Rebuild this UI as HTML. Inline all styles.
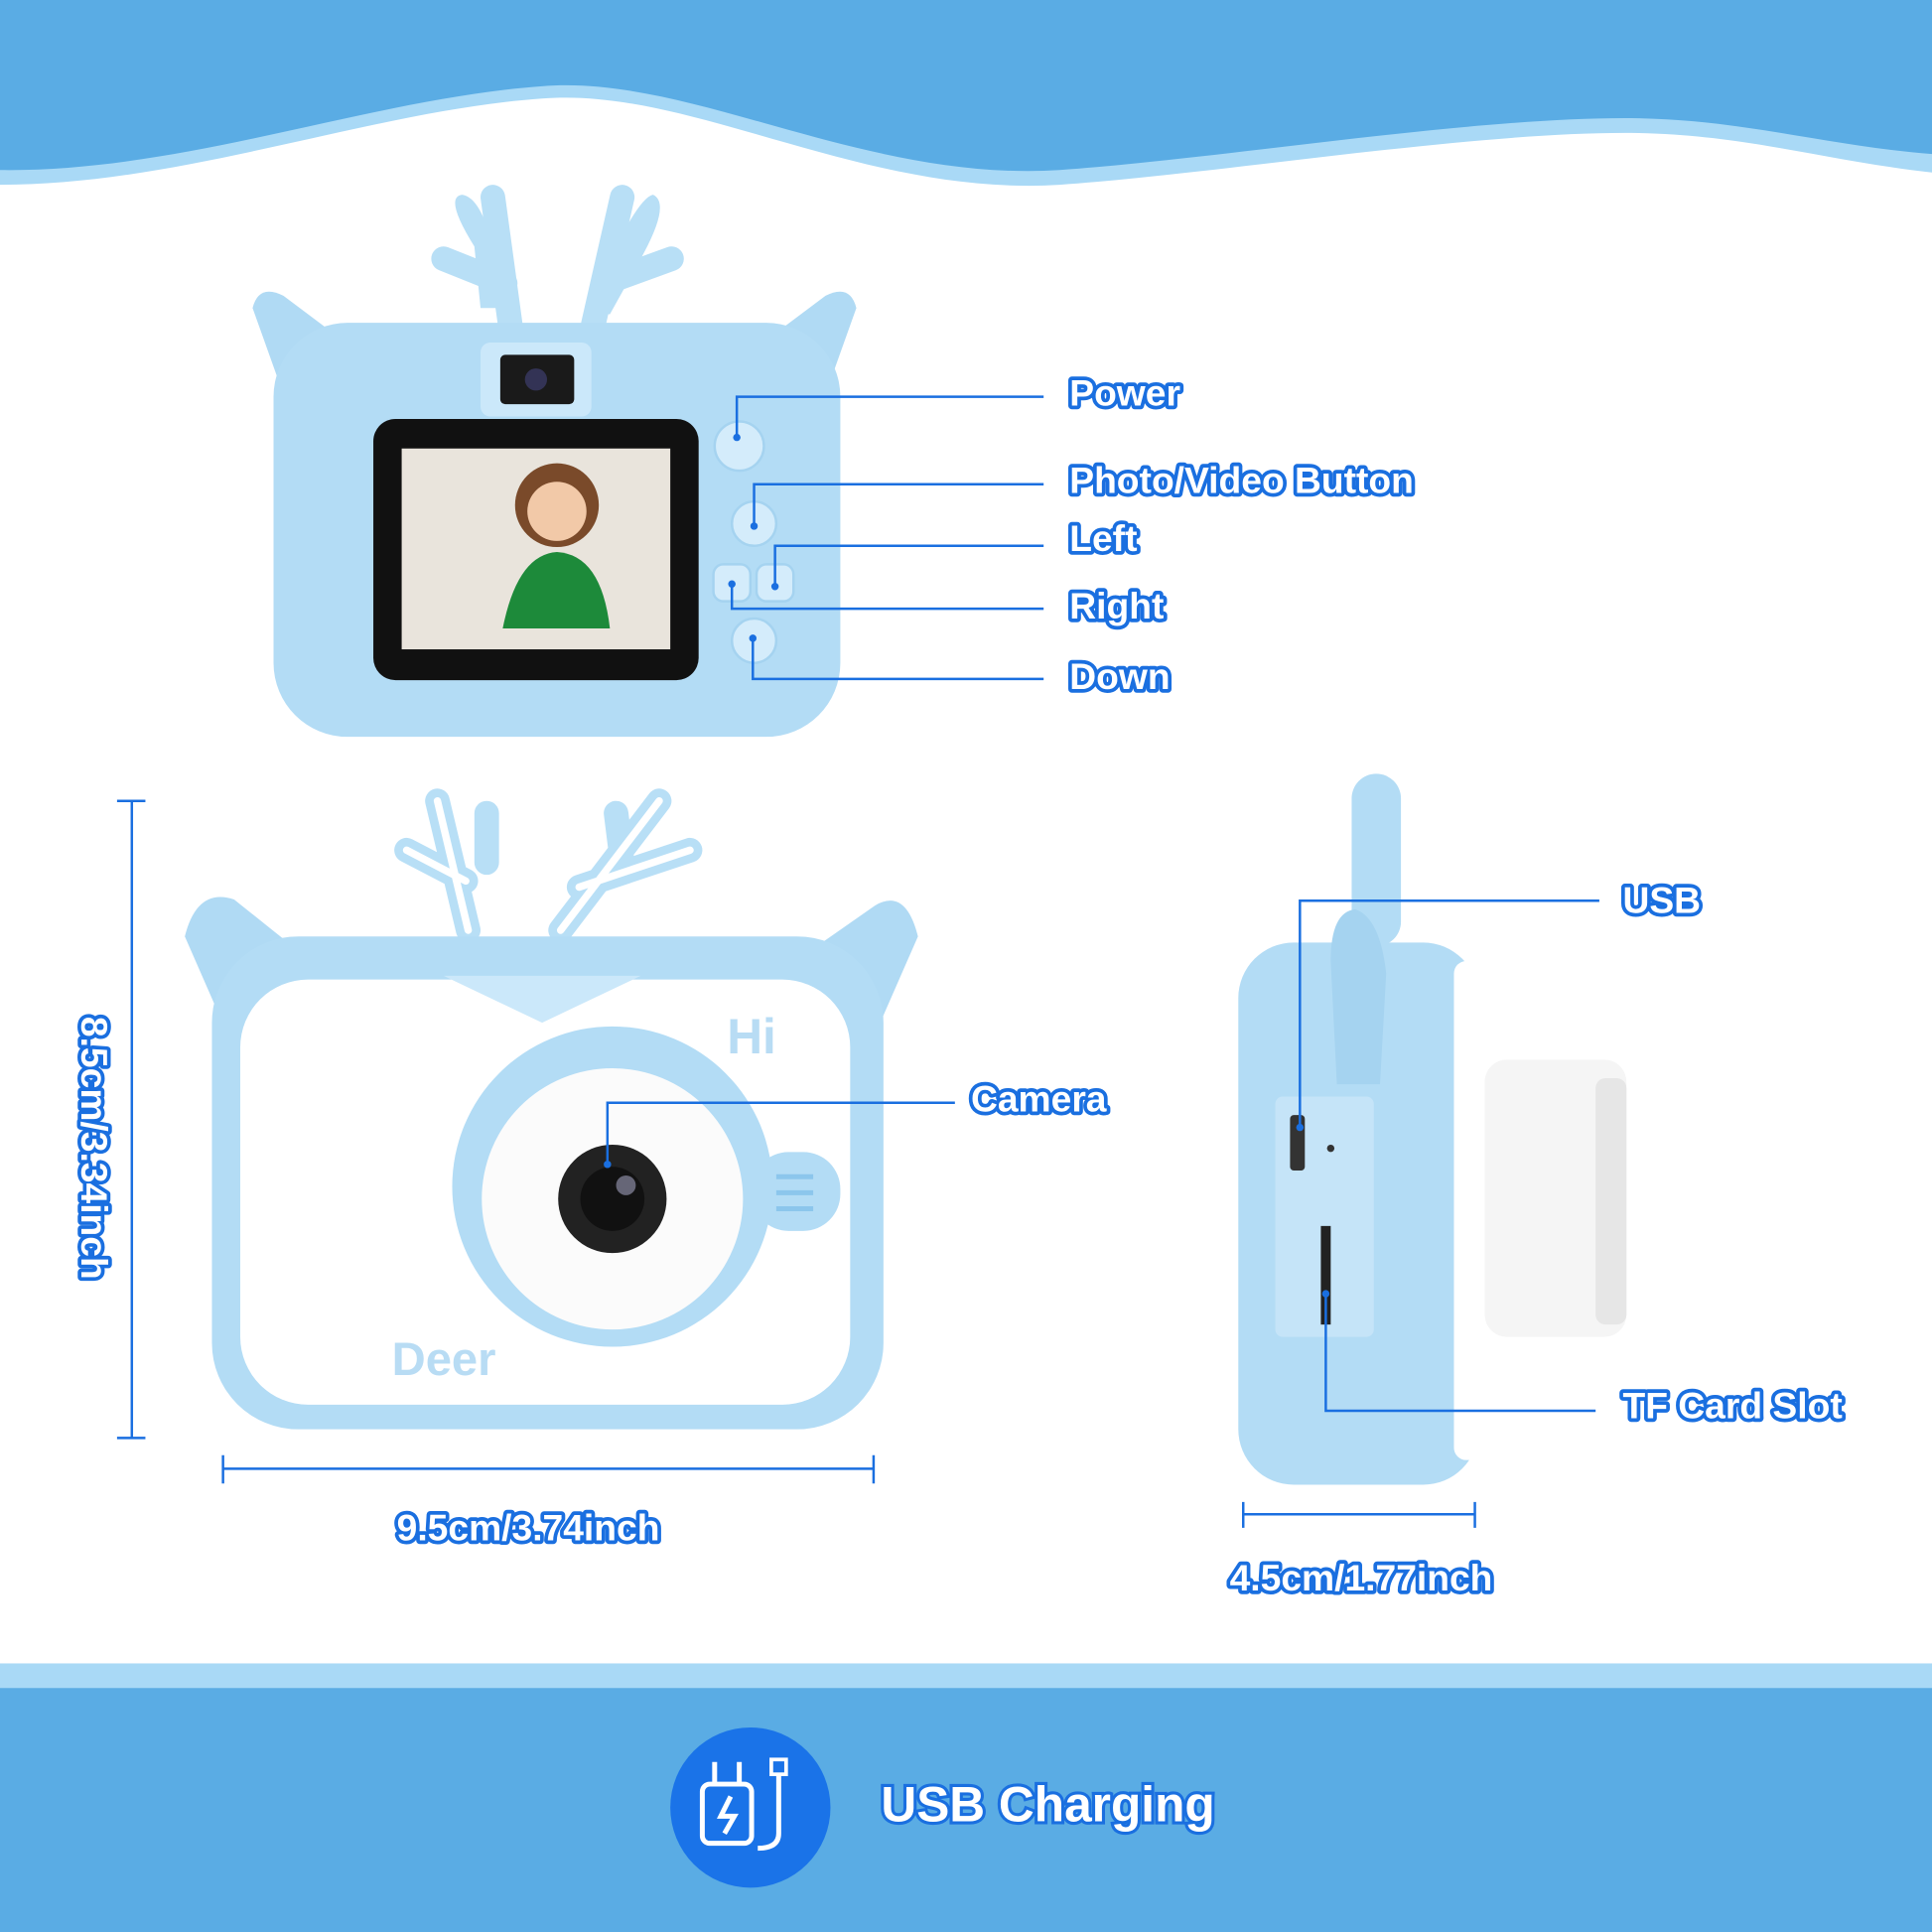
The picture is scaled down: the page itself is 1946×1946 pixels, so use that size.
<!DOCTYPE html>
<html><head><meta charset="utf-8"><style>
html,body{margin:0;padding:0;background:#fff;width:1946px;height:1946px;overflow:hidden}
text{font-family:"Liberation Sans",sans-serif;font-weight:bold}
.lb{fill:#fff;stroke:#1a6fe0;stroke-width:6;paint-order:stroke;stroke-linejoin:round;font-size:30px}
.ln{stroke:#1a6fe0;stroke-width:2;fill:none}
.dot{fill:#1a6fe0}
</style></head><body>
<svg width="1946" height="1946" viewBox="0 0 1568 1568" xmlns="http://www.w3.org/2000/svg">
<path d="M0,0H1568V140C1480,130 1420,110 1330,108C1200,106 1000,140 860,150C700,160 560,70 440,80C300,90 150,150 0,150Z" fill="#a9d9f6"/>
<path d="M0,0H1568V125C1480,118 1420,98 1330,96C1200,94 1000,128 860,138C700,148 560,60 440,70C300,80 150,140 0,138Z" fill="#5aace4"/>
<rect x="0" y="1350" width="1568" height="22" fill="#a9d9f6"/>
<rect x="0" y="1370" width="1568" height="198" fill="#5aace4"/>
<circle cx="609" cy="1467" r="65" fill="#1a73e8"/>
<rect x="570" y="1448" width="40" height="48" rx="6" fill="none" stroke="#fff" stroke-width="4"/>
<path d="M580,1448V1430M600,1448V1430M593,1458L585,1474H596L588,1488" stroke="#fff" stroke-width="4" fill="none"/>
<path d="M632,1440V1488Q632,1500 615,1500" stroke="#fff" stroke-width="4" fill="none"/>
<rect x="626" y="1428" width="12" height="12" fill="none" stroke="#fff" stroke-width="3"/>
<text x="715" y="1478" font-size="40" fill="#fff" stroke="#1a6fe0" stroke-width="5" paint-order="stroke">USB Charging</text>

<g>
<path d="M385,200Q360,160 375,158Q390,160 400,200L410,250H390Z" fill="#b8dff6"/>
<path d="M500,200Q520,160 530,158Q545,165 520,210L495,255H480Z" fill="#b8dff6"/>
<path d="M415,270L400,160M480,270L505,160M360,210L410,230M545,210L490,230" stroke="#b8dff6" stroke-width="20" stroke-linecap="round"/>
<path d="M205,250Q210,230 230,240L270,270L230,320Z" fill="#b0daf4"/>
<path d="M695,250Q690,230 670,240L630,270L670,320Z" fill="#b0daf4"/>
<rect x="222" y="262" width="460" height="336" rx="60" fill="#b3dcf5"/>
<rect x="390" y="278" width="90" height="60" rx="8" fill="#cbe8fa"/>
<rect x="406" y="288" width="60" height="40" rx="4" fill="#1a1a1a"/>
<circle cx="435" cy="308" r="9" fill="#335"/>
<rect x="303" y="340" width="264" height="212" rx="18" fill="#111"/>
<rect x="326" y="364" width="218" height="163" fill="#e9e4dc"/>
<circle cx="452" cy="410" r="34" fill="#7a4a2a"/>
<circle cx="452" cy="415" r="24" fill="#f2c9a8"/>
<path d="M408,510Q420,450 452,448Q488,450 495,510Z" fill="#1d8a3a"/>
<circle cx="600" cy="362" r="20" fill="#d4ecfb" stroke="#a5d3f0" stroke-width="2"/>
<circle cx="612" cy="425" r="18" fill="#d4ecfb" stroke="#a5d3f0" stroke-width="2"/>
<rect x="579" y="458" width="30" height="30" rx="8" fill="#d4ecfb" stroke="#a5d3f0" stroke-width="2"/>
<rect x="614" y="458" width="30" height="30" rx="8" fill="#d4ecfb" stroke="#a5d3f0" stroke-width="2"/>
<circle cx="612" cy="520" r="18" fill="#d4ecfb" stroke="#a5d3f0" stroke-width="2"/>
</g>
<path class="ln" d="M598,355V322H847M612,427V393H847M629,476V443H847M594,474V494H847M611,518V551H847"/>
<g class="dot"><circle cx="598" cy="355" r="3"/><circle cx="612" cy="427" r="3"/><circle cx="629" cy="476" r="3"/><circle cx="594" cy="474" r="3"/><circle cx="611" cy="518" r="3"/></g>
<text class="lb" x="868" y="329">Power</text>
<text class="lb" x="868" y="400">Photo/Video Button</text>
<text class="lb" x="868" y="447">Left</text>
<text class="lb" x="868" y="502">Right</text>
<text class="lb" x="868" y="559">Down</text>

<g>
<path d="M380,755L355,650M455,755L535,650M330,690L378,715M560,690L470,720M395,660L395,700M500,660L505,700" stroke="#b8dff6" stroke-width="20" stroke-linecap="round" fill="none"/>
<path d="M380,755L355,650M455,755L535,650M330,690L378,715M560,690L470,720" stroke="#fff" stroke-width="6" stroke-linecap="round" fill="none"/>
<path d="M150,760Q160,720 190,730L240,770L185,840Z" fill="#b0daf4"/>
<path d="M745,760Q735,720 710,735L660,770L710,840Z" fill="#b0daf4"/>
<rect x="172" y="760" width="545" height="400" rx="70" fill="#b3dcf5"/>
<rect x="195" y="795" width="495" height="345" rx="55" fill="#fff"/>
<path d="M360,792H520L440,830Z" fill="#cbe8fa"/>
<text x="590" y="855" font-size="40" fill="#b8dcf4">Hi</text>
<text x="318" y="1116" font-size="38" fill="#b8dcf4">Deer</text>
<rect x="610" y="935" width="72" height="64" rx="30" fill="#b3dcf5"/>
<path d="M630,955H660M630,968H660M630,981H660" stroke="#8cc6ec" stroke-width="4"/>
<circle cx="497" cy="963" r="130" fill="#b3dcf5"/>
<circle cx="497" cy="973" r="106" fill="#fbfbfb"/>
<circle cx="497" cy="973" r="44" fill="#222"/>
<circle cx="497" cy="973" r="26" fill="#111"/>
<circle cx="508" cy="962" r="8" fill="#667"/>
</g>
<path class="ln" d="M493,945V895H775"/>
<circle class="dot" cx="493" cy="945" r="3"/>
<text class="lb" x="788" y="902">Camera</text>
<path class="ln" d="M107,650V1167M95,650H118M95,1167H118M181,1192H709M181,1181V1204M709,1181V1204M1009,1229H1197M1009,1219V1240M1197,1219V1240"/>
<text class="lb" x="322" y="1250">9.5cm/3.74inch</text>
<text class="lb" x="998" y="1291">4.5cm/1.77inch</text>
<text class="lb" transform="translate(66,825) rotate(90)">8.5cm/3.34inch</text>

<g>
<rect x="1097" y="628" width="40" height="140" rx="20" fill="#b3dcf5"/>
<rect x="1005" y="765" width="195" height="440" rx="45" fill="#b3dcf5"/>
<rect x="1180" y="780" width="30" height="405" rx="10" fill="#fff"/>
<rect x="1205" y="860" width="115" height="225" rx="18" fill="#f5f5f5"/>
<rect x="1295" y="875" width="25" height="200" rx="8" fill="#e6e6e6"/>
<path d="M1080,780Q1080,740 1100,738Q1120,745 1125,790L1120,880H1085Z" fill="#a5d3f0"/>
<rect x="1035" y="890" width="80" height="195" rx="6" fill="#c5e4f8"/>
<rect x="1047" y="905" width="12" height="45" rx="3" fill="#333"/>
<circle cx="1080" cy="932" r="3" fill="#333"/>
<rect x="1072" y="995" width="8" height="80" fill="#222"/>
</g>
<path class="ln" d="M1055,915V731H1298M1076,1050V1145H1295"/>
<circle class="dot" cx="1055" cy="915" r="3"/><circle class="dot" cx="1076" cy="1050" r="3"/>
<text class="lb" x="1317" y="741">USB</text>
<text class="lb" x="1317" y="1151">TF Card Slot</text>
</svg>
</body></html>
